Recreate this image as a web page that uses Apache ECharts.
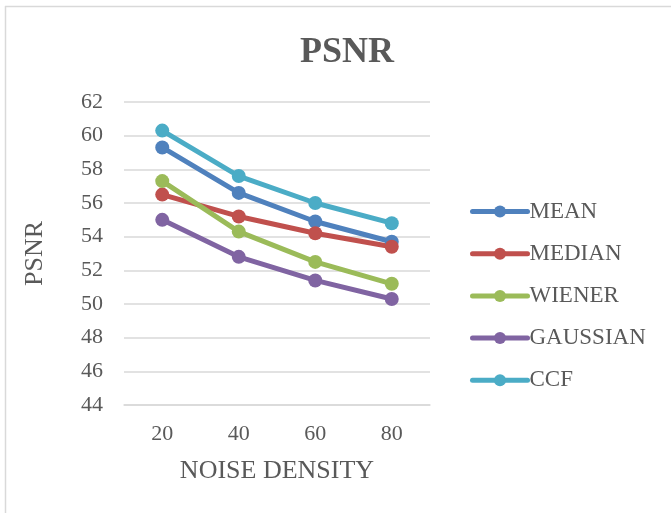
<!DOCTYPE html>
<html>
<head>
<meta charset="utf-8">
<script src="https://cdn.jsdelivr.net/npm/echarts@6/dist/echarts.min.js"></script>
<style>
html,body{margin:0;padding:0;background:#fff;}
#main{width:671px;height:513px;}
</style>
</head>
<body>
<div id="main"></div>
<script>
const categories = ['20', '40', '60', '80'];
const seriesNames = ['MEAN', 'MEDIAN', 'WIENER', 'GAUSSIAN', 'CCF'];
const mean = [59.3, 56.6, 54.9, 53.7];
const median = [56.5, 55.2, 54.2, 53.4];
const wiener = [57.3, 54.3, 52.5, 51.2];
const gaussian = [55.0, 52.8, 51.4, 50.3];
const ccf = [60.3, 57.6, 56.0, 54.8];
const colors = ['#4f81bd', '#c0504d', '#9bbb59', '#8064a2', '#4bacc6'];
const values = [mean, median, wiener, gaussian, ccf];

const font = '"Liberation Serif", "Times New Roman", serif';
const chart = echarts.init(document.getElementById('main'));
chart.setOption({
  animation: false,
  textStyle: { fontFamily: font },
  graphic: [
    { type: 'line', shape: { x1: 5.5, y1: 6, x2: 5.5, y2: 513 }, style: { stroke: '#d9d9d9', lineWidth: 1.5 } },
    { type: 'line', shape: { x1: 5, y1: 6.5, x2: 671, y2: 6.5 }, style: { stroke: '#d9d9d9', lineWidth: 1.5 } }
  ],
  title: {
    text: 'PSNR',
    left: 342, top: 30, textAlign: 'center',
    textStyle: { fontFamily: font, fontSize: 36, fontWeight: 'bold', color: '#595959' }
  },
  legend: {
    orient: 'vertical',
    left: 465, top: 195,
    itemWidth: 55, itemHeight: 15, itemGap: 19.2,
    data: seriesNames,
    lineStyle: { width: 5 },
    textStyle: { fontFamily: font, fontSize: 23, color: '#595959', padding: [0, 0, 0, -3] }
  },
  grid: { left: 124, right: 241, top: 102, bottom: 108 },
  xAxis: {
    type: 'category',
    data: categories,
    boundaryGap: true,
    name: 'NOISE DENSITY',
    nameLocation: 'middle',
    nameGap: 53,
    nameTextStyle: { fontFamily: font, fontSize: 26, color: '#595959' },
    axisLine: { show: true, lineStyle: { color: '#d9d9d9', width: 1.5 } },
    axisTick: { show: false },
    axisLabel: { fontFamily: font, fontSize: 22, color: '#595959', margin: 18 }
  },
  yAxis: {
    type: 'value',
    min: 44, max: 62, interval: 2,
    name: 'PSNR',
    nameLocation: 'middle',
    nameGap: 76,
    nameTextStyle: { fontFamily: font, fontSize: 26, color: '#595959' },
    axisLine: { show: false },
    axisTick: { show: false },
    splitLine: { lineStyle: { color: '#d9d9d9', width: 1.5 } },
    axisLabel: { fontFamily: font, fontSize: 22, color: '#595959', margin: 21 }
  },
  series: seriesNames.map((n, i) => ({
    name: n,
    type: 'line',
    data: values[i],
    symbol: 'circle',
    symbolSize: 14,
    color: colors[i],
    lineStyle: { width: 5, color: colors[i], cap: 'round' },
    itemStyle: { color: colors[i] }
  }))
});
</script>
</body>
</html>
